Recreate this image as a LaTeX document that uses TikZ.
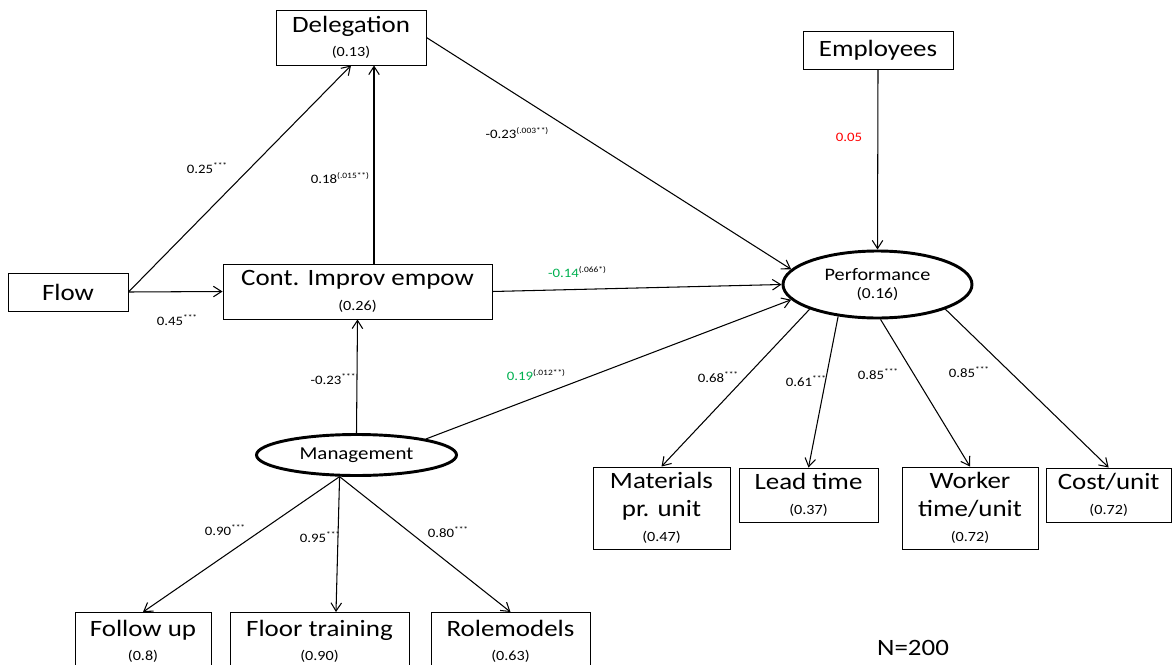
\documentclass[tikz,border=0pt]{standalone}
\usepackage{fontspec}
\setmainfont{Carlito}[FakeStretch=1.15]
\usetikzlibrary{arrows.meta,shapes}
\definecolor{coefgreen}{RGB}{0,176,80}
\newcommand{\rsq}[1]{{\fontsize{12}{14}\selectfont(#1)}}
\newcommand{\sigmark}[1]{\raisebox{0.42em}{\fontsize{7}{8}\selectfont #1}}

\begin{document}
\begin{tikzpicture}[font=\fontsize{20}{24}\selectfont]
\tikzstyle{arc}=[-{Straight Barb[length=7pt,width=9pt]},line width=0.9pt]
\tikzstyle{box}=[rectangle,draw,line width=0.8pt,align=center,inner sep=2pt]
\tikzstyle{latent}=[ellipse,draw,line width=2.5pt,align=center,inner sep=0pt]
\tikzstyle{coef}=[font=\fontsize{11}{13}\selectfont,inner sep=0pt]
\useasboundingbox (0,0) rectangle (35.19,-19.95);
%% observed variables %%
\node[box,minimum width=4.5cm,minimum height=1.65cm] at (10.53,-1.125) (Deleg) {Delegation\\[-3pt]\rsq{0.13}};
\node[box,minimum width=4.5cm,minimum height=1.14cm] at (26.34,-1.5) (Empl) {Employees};
\node[box,minimum width=3.6cm,minimum height=1.14cm] at (2.04,-8.76) (Flow) {Flow};
\node[box,minimum width=8.07cm,minimum height=1.65cm] at (10.725,-8.745) (CIE) {Cont. Improv empow\\[-3pt]\rsq{0.26}};
\node[box,minimum width=4.11cm,minimum height=2.46cm] at (19.845,-15.24) (Mat) {Materials\\pr. unit\\[-3pt]\rsq{0.47}};
\node[box,minimum width=4.17cm,minimum height=1.62cm] at (24.255,-14.85) (Lead) {Lead time\\[-3pt]\rsq{0.37}};
\node[box,minimum width=4.08cm,minimum height=2.46cm] at (29.1,-15.24) (Work) {Worker\\time/unit\\[-3pt]\rsq{0.72}};
\node[box,minimum width=3.76cm,minimum height=1.62cm] at (33.26,-14.85) (Cost) {Cost/unit\\[-3pt]\rsq{0.72}};
\node[box,anchor=north,minimum width=4.08cm,minimum height=1.74cm] at (4.29,-18.36) (Foll) {Follow up\\[-3pt]\rsq{0.8}};
\node[box,anchor=north,minimum width=5.37cm,minimum height=1.74cm] at (9.585,-18.36) (Floor) {Floor training\\[-3pt]\rsq{0.90}};
\node[box,anchor=north,minimum width=4.77cm,minimum height=1.74cm] at (15.315,-18.36) (Role) {Rolemodels\\[-3pt]\rsq{0.63}};
%% latent variables %%
\node[latent,minimum width=5.67cm,minimum height=2.01cm,font=\fontsize{15}{16}\selectfont] at (26.325,-8.535) (Perf) {Performance\\{\fontsize{13}{15}\selectfont(0.16)}};
\node[latent,minimum width=6.0cm,minimum height=1.23cm,font=\fontsize{15.5}{17}\selectfont] at (10.695,-13.65) (Mgmt) {Management};
\coordinate (M0) at (Mgmt.232);
%% paths %%
\draw[arc] (Flow.east) -- (Deleg.south);
\draw[arc] (Flow.east) -- (CIE.west);
\draw[arc] ([xshift=0.495cm]CIE.north) -- ([xshift=0.69cm]Deleg.south);
\draw[arc] (Deleg.east) -- (Perf.170);
\draw[arc] (CIE.east) -- (Perf.west);
\draw[arc] (Empl.south) -- (Perf.north);
\draw[arc] (Mgmt.north) -- (CIE.south);
\draw[arc] (Mgmt.13) -- (Perf.190);
\draw[arc] (Perf.200) -- (Mat.north);
\draw[arc] (Perf.219) -- (Lead.north);
\draw[arc] (Perf.275) -- (Work.north);
\draw[arc] (Perf.340) -- (Cost.north);
\draw[arc] (M0) -- (Foll.north);
\draw[arc] (M0) -- ([xshift=0.495cm]Floor.north);
\draw[arc] (M0) -- (Role.north);
%% coefficients %%
\node[coef] at (6.21,-5.04) (c0) {0.25\sigmark{***}};
\node[coef] at (10.2,-5.34) (c1) {0.18\sigmark{(.015**)}};
\node[coef] at (15.51,-3.99) (c2) {-0.23\sigmark{(.003**)}};
\node[coef] at (5.31,-9.6) (c3) {0.45\sigmark{***}};
\node[coef] at (17.31,-8.16) (c4) {{\color{coefgreen}-0.14}\sigmark{(.066*)}};
\node[coef,text=red] at (25.47,-4.11) (c5) {0.05};
\node[coef] at (9.99,-11.37) (c6) {-0.23\sigmark{***}};
\node[coef] at (16.08,-11.25) (c7) {{\color{coefgreen}0.19}\sigmark{(.012**)}};
\node[coef] at (6.75,-15.9) (c8) {0.90\sigmark{***}};
\node[coef] at (9.6,-16.11) (c9) {0.95\sigmark{***}};
\node[coef] at (13.44,-15.96) (c10) {0.80\sigmark{***}};
\node[coef] at (21.54,-11.31) (c11) {0.68\sigmark{***}};
\node[coef] at (24.18,-11.43) (c12) {0.61\sigmark{***}};
\node[coef] at (26.34,-11.22) (c13) {0.85\sigmark{***}};
\node[coef] at (29.07,-11.16) (c14) {0.85\sigmark{***}};
\node at (27.39,-19.44) (N) {N=200};
\end{tikzpicture}
\end{document}
